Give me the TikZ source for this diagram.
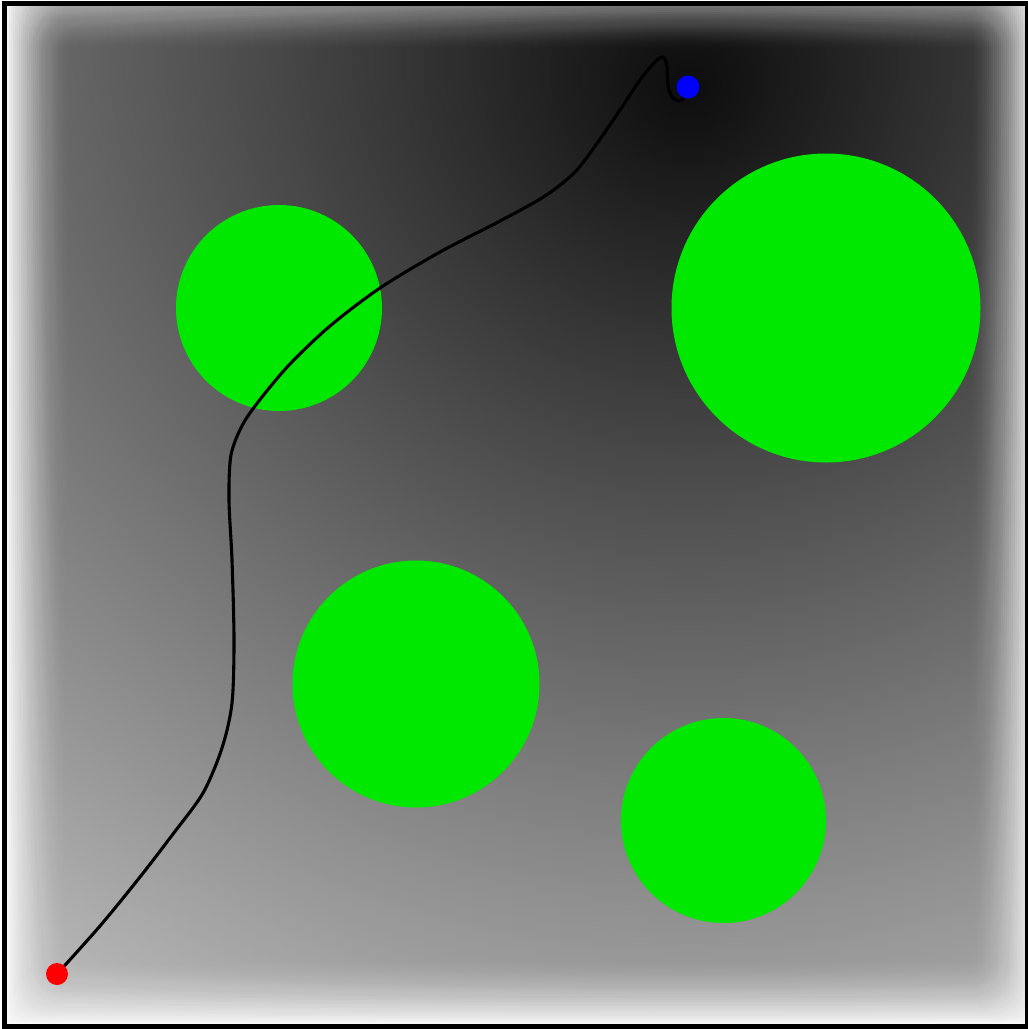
\documentclass[tikz,border=0pt]{standalone}
\definecolor{obst}{RGB}{0,232,0}
\pgfdeclareradialshading{potential}{\pgfpoint{0bp}{-5.5bp}}{color(0bp)=(black!95); color(25bp)=(black!17); color(50bp)=(black!17)}
\newcommand\fadeband[5]{%
  \pgfmathsetmacro\tA{(#1+0.5)*#2}%
  \pgfmathsetmacro\tB{(#1+1.5)*#2}%
  \pgfmathsetmacro\Aa{#3*(max(1-\tA/#4,0.001))^#5}%
  \pgfmathsetmacro\Ab{#3*(max(1-\tB/#4,0.001))^#5}%
  \pgfmathsetmacro\bandop{1-(1-\Aa)/(1-\Ab)}%
  \pgfmathsetmacro\bandext{(#1+1)*#2}}
\begin{document}
\begin{tikzpicture}[x=1pt,y=-1pt,
  obstacle/.style={circle, fill=obst, draw=none, inner sep=0pt},
  trajectory/.style={draw=black, line width=3.1pt, line join=round, line cap=round},
  startpt/.style={circle, fill=red, minimum size=22pt, inner sep=0pt},
  goalpt/.style={circle, fill=blue, minimum size=23pt, inner sep=0pt},
  frame/.style={draw=black, line width=5pt},
  wallfade/.style={fill=white, draw=none}]
\useasboundingbox (0,0) rectangle (1028,1029);
\fill[white] (0,0) rectangle (1028,1029);
\begin{scope}
  \clip (6.7,5.5) rectangle (1025,1024);
  % field: square of half-side 1400 centred at (688,-221); its focus falls on the goal (688,87)
  \shade[shading=potential] (-712,-1621) rectangle (2088,1179);
  % repulsive walls
  \foreach \k in {0,...,35}{
    \fadeband{\k}{2}{1}{64}{1.6}
    \fill[wallfade, opacity=\bandop] (6.7,5.5) rectangle ({6.7+\bandext},1024);
    \fadeband{\k}{2}{0.8}{56}{1.6}
    \fill[wallfade, opacity=\bandop] ({1025-\bandext},5.5) rectangle (1025,1024);
    \fadeband{\k}{2}{0.45}{45}{1.4}
    \fill[wallfade, opacity=\bandop] (6.7,5.5) rectangle (1025,{5.5+\bandext});
    \fadeband{\k}{2}{1}{68}{1.6}
    \fill[wallfade, opacity=\bandop] (6.7,{1024-\bandext}) rectangle (1025,1024);
  }
\end{scope}
% obstacles
\node[obstacle, minimum size=206pt] (obs1) at (279,308) {};
\node[obstacle, minimum size=309pt] (obs2) at (826,308) {};
\node[obstacle, minimum size=247pt] (obs3) at (416,684) {};
\node[obstacle, minimum size=205pt] (obs4) at (723.5,820.5) {};
% trajectory
\coordinate (s) at (57,974);
\coordinate (g) at (688,87);
\draw[trajectory] plot[smooth, tension=0.5] coordinates {
  (s) (100,926) (140,877) (173,834) (203,793) (222,748) (232,703)
  (234,640) (232,560) (229,500) (231,455) (243,424) (262,397) (290,364)
  (330,326) (380,288) (440,252) (500,221) (545,196) (575,172) (598,142)
  (620,110) (640,80) (655,62) (663,57) (667,66) (668,85) (672,97)
  (679,101) (684,98)};
\node[startpt] (start) at (s) {};
\node[goalpt] (goal) at (g) {};
% frame
\draw[frame] (4.2,3) rectangle (1027.5,1026.5);
\end{tikzpicture}
\end{document}
